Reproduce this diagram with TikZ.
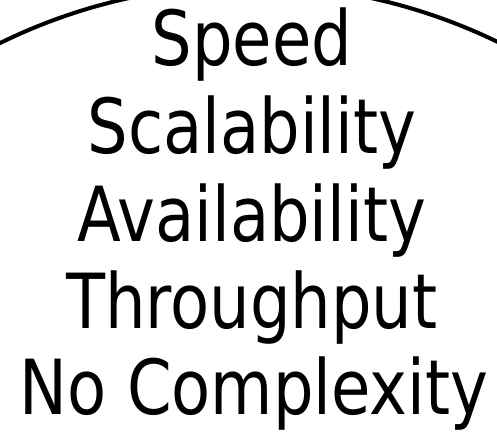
\documentclass[tikz,border=0pt]{standalone}
\usepackage{fontspec}
\setmainfont{DejaVu Sans Condensed}[FakeStretch=0.935]
\usetikzlibrary{positioning}

\begin{document}
\begin{tikzpicture}[
  x=0.75pt, y=0.75pt,
  goal/.style = {anchor=base, inner sep=0pt,
                 font=\fontsize{57}{66}\selectfont},
  rim/.style  = {line width=3pt, black},
]
\useasboundingbox (0,0) rectangle (497,432);

%% --- outer rim ---
\begin{scope}
  \clip (0,0) rectangle (497,432);
  \draw[rim] (250,-120) ++(117:567) arc[start angle=117, end angle=63, radius=567];
\end{scope}

%% --- goals ---
\node[goal] (speed)   at (252,366) {Speed};
\node[goal] (scale)   at (252,278) {Scalability};
\node[goal] (avail)   at (252,190) {Availability};
\node[goal] (thru)    at (252,103) {Throughput};
\node[goal] (nocompl) at (254,17)  {No Complexity};

\end{tikzpicture}
\end{document}
